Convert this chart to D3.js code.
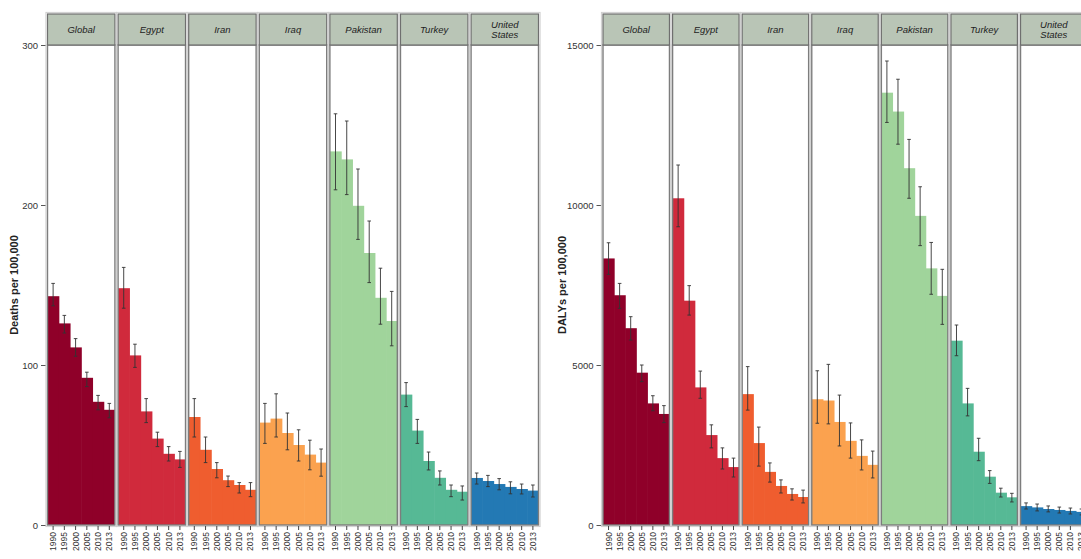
<!DOCTYPE html>
<html>
<head>
<meta charset="utf-8">
<script src="https://cdn.jsdelivr.net/npm/d3@7"></script>
<style>
  html, body { margin: 0; padding: 0; background: #fff; }
  svg { display: block; font-family: "Liberation Sans", Arial, sans-serif; }
</style>
</head>
<body>
<svg id="chart" width="1081" height="559"></svg>
<script>
// Facets and years
const countries = ["Global", "Egypt", "Iran", "Iraq", "Pakistan", "Turkey", "United States"];
const years = ["1990", "1995", "2000", "2005", "2010", "2013"];
const countryColors = ["#8f0029", "#d02a3c", "#ef5d2f", "#fba24f", "#a0d49b", "#56b995", "#2379b4"];

// Deaths per 100,000 (rate, lower and upper uncertainty bounds)
const deathRates = [
  [143, 126, 111, 92, 77, 72],
  [148, 106, 71, 54, 44.5, 41],
  [67.5, 47, 35, 28, 25, 22],
  [64, 66.5, 57.5, 50, 44, 39],
  [233.5, 228.5, 199.5, 170, 142, 127.5],
  [81.5, 59, 40, 29.5, 22, 20.8],
  [29.4, 27.5, 25.6, 23.8, 22.5, 21.5]
];
const deathLower = [
  [137, 120, 105.5, 86.5, 72, 67],
  [135.5, 98.5, 64, 49, 40, 36],
  [55, 39, 29.5, 24, 20, 17.7],
  [51, 55, 47, 40, 34.5, 30.5],
  [209.5, 206.5, 178.5, 151.5, 125.5, 112],
  [74, 51, 34.4, 25, 17.7, 15.6],
  [25.6, 24, 22, 19.5, 19.4, 17.5]
];
const deathUpper = [
  [151, 131, 116.5, 95.5, 81, 76],
  [161, 113, 79, 58, 49, 46],
  [79, 55, 39, 30.6, 26.5, 26.5],
  [76, 82, 70, 59.5, 53, 47.5],
  [257, 252.5, 222.5, 190, 160.5, 146],
  [89, 66, 45.6, 33.8, 25, 24.4],
  [32.5, 31, 29, 27, 25.6, 25]
];

// DALYs per 100,000 (rate, lower and upper uncertainty bounds)
const dalyRates = [
  [8330, 7180, 6150, 4760, 3800, 3470],
  [10210, 7010, 4300, 2810, 2090, 1810],
  [4090, 2560, 1660, 1220, 970, 875],
  [3930, 3890, 3220, 2630, 2160, 1880],
  [13510, 12920, 11150, 9660, 8020, 7160],
  [5760, 3800, 2290, 1510, 1010, 865],
  [590, 550, 500, 470, 440, 410]
];
const dalyLower = [
  [7830, 6770, 5780, 4480, 3570, 3200],
  [9320, 6560, 3960, 2410, 1750, 1500],
  [3590, 1840, 1340, 1000, 780, 690],
  [3180, 3160, 2470, 2090, 1720, 1470],
  [12580, 11900, 10210, 8730, 7210, 6270],
  [5290, 3410, 2010, 1300, 875, 720],
  [500, 440, 410, 375, 345, 315]
];
const dalyUpper = [
  [8820, 7550, 6510, 5000, 4040, 3730],
  [11250, 7480, 4810, 3130, 2410, 2090],
  [4950, 3060, 1940, 1410, 1130, 1090],
  [4820, 5020, 4060, 3190, 2660, 2310],
  [14500, 13930, 12050, 10570, 8830, 7990],
  [6250, 4270, 2710, 1700, 1150, 990],
  [690, 655, 595, 560, 530, 500]
];

// Axis ticks
const deathTicks = [0, 100, 200, 300];
const dalyTicks = [0, 5000, 10000, 15000];

const svg = d3.select("#chart");

const panels = [
  { left: 47.5, right: 538.5, yTitle: "Deaths per 100,000", titleX: 18,
    ticks: deathTicks, max: 300, rates: deathRates, lower: deathLower, upper: deathUpper },
  { left: 603, right: 1087, yTitle: "DALYs per 100,000", titleX: 566,
    ticks: dalyTicks, max: 15000, rates: dalyRates, lower: dalyLower, upper: dalyUpper }
];

const plotTop = 45, plotBottom = 525, stripTop = 14;

panels.forEach(p => {
  const g = svg.append("g");
  const y = d3.scaleLinear().domain([0, p.max]).range([plotBottom, plotTop]);
  const fx = d3.scaleBand().domain(countries).range([p.left, p.right]).paddingInner(0.045).paddingOuter(0);
  const bx = d3.scaleBand().domain(years).range([0, fx.bandwidth()]).padding(0);

  // y axis ticks and labels
  const yAxis = d3.axisLeft(y).tickValues(p.ticks).tickSize(5).tickPadding(3).tickFormat(d3.format("d"));
  const ya = g.append("g").attr("transform", `translate(${p.left - 1.5},0)`).call(yAxis);
  ya.select(".domain").remove();
  ya.selectAll(".tick line").attr("stroke", "#555").attr("stroke-width", 1);
  ya.selectAll(".tick text").attr("font-size", 9.5).attr("fill", "#333")
    .attr("font-family", "'Liberation Sans', Arial, sans-serif");

  // y axis title
  g.append("text")
    .attr("transform", `translate(${p.titleX},${(plotTop + plotBottom) / 2}) rotate(-90)`)
    .attr("text-anchor", "middle")
    .attr("font-size", 11).attr("font-weight", "bold").attr("fill", "#222")
    .text(p.yTitle);

  countries.forEach((c, ci) => {
    const x0 = fx(c), w = fx.bandwidth();
    const fg = g.append("g").attr("transform", `translate(${x0},0)`);

    // outer light frame
    fg.append("rect")
      .attr("x", -1.6).attr("y", stripTop - 1.6)
      .attr("width", w + 3.2).attr("height", plotBottom - stripTop + 3.2)
      .attr("fill", "none").attr("stroke", "#cfcfcf").attr("stroke-width", 1);

    // bars (slightly widened so adjacent bars join without seams)
    fg.selectAll("rect.bar")
      .data(years.map((yr, i) => ({ yr, v: p.rates[ci][i] })))
      .join("rect").attr("class", "bar")
      .attr("x", d => bx(d.yr))
      .attr("width", (d, i) => bx.bandwidth() + (i < years.length - 1 ? 0.6 : 0))
      .attr("y", d => y(d.v))
      .attr("height", d => plotBottom - y(d.v))
      .attr("fill", countryColors[ci]);

    // error bars
    const eb = years.map((yr, i) => ({ yr, lo: p.lower[ci][i], hi: p.upper[ci][i] }));
    const cx = d => bx(d.yr) + bx.bandwidth() / 2;
    fg.selectAll("line.err")
      .data(eb).join("line").attr("class", "err")
      .attr("x1", cx).attr("x2", cx)
      .attr("y1", d => y(d.lo)).attr("y2", d => y(d.hi))
      .attr("stroke", "#333").attr("stroke-width", 0.9);
    ["lo", "hi"].forEach(k => {
      fg.selectAll(`line.cap-${k}`)
        .data(eb).join("line").attr("class", `cap-${k}`)
        .attr("x1", d => cx(d) - 1.8).attr("x2", d => cx(d) + 1.8)
        .attr("y1", d => y(d[k])).attr("y2", d => y(d[k]))
        .attr("stroke", "#333").attr("stroke-width", 0.9);
    });

    // facet frame
    fg.append("rect")
      .attr("x", 0).attr("y", plotTop)
      .attr("width", w).attr("height", plotBottom - plotTop)
      .attr("fill", "none").attr("stroke", "#7d7d7d").attr("stroke-width", 1.4);

    // strip header
    fg.append("rect")
      .attr("x", 0).attr("y", stripTop)
      .attr("width", w).attr("height", plotTop - stripTop)
      .attr("fill", "#b9c5b6").attr("stroke", "#6f6f6f").attr("stroke-width", 1.2);
    const words = c === "United States" ? ["United", "States"] : [c];
    const st = fg.append("text")
      .attr("text-anchor", "middle")
      .attr("font-size", 9.5).attr("font-style", "italic").attr("fill", "#222");
    words.forEach((wd, wi) => {
      st.append("tspan")
        .attr("x", w / 2)
        .attr("y", (stripTop + plotTop) / 2 + 3.5 + (wi - (words.length - 1) / 2) * 10.5)
        .text(wd);
    });

    // x axis with rotated year labels
    const xAxis = d3.axisBottom(bx).tickSize(4).tickPadding(2);
    const xa = fg.append("g").attr("transform", `translate(0,${plotBottom + 1})`).call(xAxis);
    xa.select(".domain").remove();
    xa.selectAll(".tick line").attr("stroke", "#444");
    xa.selectAll(".tick text")
      .attr("font-size", 8.5).attr("fill", "#333")
      .attr("font-family", "'Liberation Sans', Arial, sans-serif")
      .attr("text-anchor", "end")
      .attr("dy", "0.35em")
      .attr("transform", "translate(0,6) rotate(-90)")
      .attr("x", 0).attr("y", 0);
  });
});
</script>
</body>
</html>
